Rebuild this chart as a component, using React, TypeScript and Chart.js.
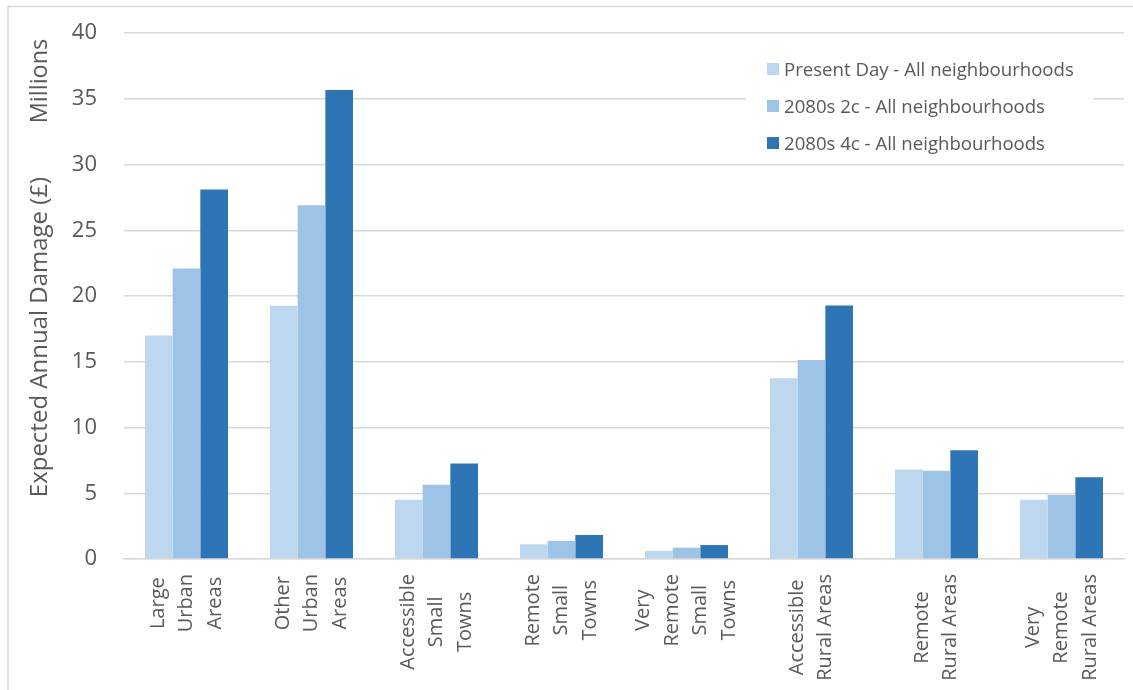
import { useEffect, useRef } from "react";
import { Chart, registerables } from "chart.js";

Chart.register(...registerables);

const categories: string[][] = [
  ["Large", "Urban", "Areas"],
  ["Other", "Urban", "Areas"],
  ["Accessible", "Small", "Towns"],
  ["Remote", "Small", "Towns"],
  ["Very", "Remote", "Small", "Towns"],
  ["Accessible", "Rural Areas"],
  ["Remote", "Rural Areas"],
  ["Very", "Remote", "Rural Areas"],
];

const seriesNames = [
  "Present Day - All neighbourhoods",
  "2080s 2c - All neighbourhoods",
  "2080s 4c - All neighbourhoods",
];

const presentDay = [17.0, 19.25, 4.5, 1.12, 0.62, 13.75, 6.8, 4.5];
const c2080s2 = [22.1, 26.9, 5.65, 1.38, 0.86, 15.13, 6.72, 4.87];
const c2080s4 = [28.1, 35.67, 7.27, 1.83, 1.06, 19.27, 8.27, 6.21];

const colors = ["#BDD7EE", "#9DC3E6", "#2E75B6"];

const yTitle = "Expected Annual Damage (£)";
const yUnit = "Millions";

const TEXT = "#595959";
const FONT = "'Open Sans', sans-serif";

const decorPlugin = {
  id: "decor",
  beforeDraw(chart: any) {
    const ctx = chart.ctx;
    ctx.save();
    ctx.fillStyle = "#ffffff";
    ctx.fillRect(0, 0, chart.width, chart.height);
    ctx.strokeStyle = "#D9D9D9";
    ctx.lineWidth = 1.5;
    ctx.strokeRect(8, 6.5, chart.width + 20, chart.height + 20);
    ctx.restore();
  },
  afterDraw(chart: any) {
    const ctx = chart.ctx;
    const xs = chart.scales.x;
    ctx.save();
    // category labels (rotated, lines centred within block)
    ctx.fillStyle = TEXT;
    ctx.font = `20px ${FONT}`;
    ctx.textAlign = "center";
    ctx.textBaseline = "middle";
    const lineH = 28.5;
    const top = 574;
    categories.forEach((lines, i) => {
      const cx = xs.getPixelForValue(i);
      const maxW = Math.max(...lines.map((l) => ctx.measureText(l).width));
      ctx.save();
      ctx.translate(cx, top + maxW / 2);
      ctx.rotate(-Math.PI / 2);
      lines.forEach((l, j) => {
        const off = (j - (lines.length - 1) / 2) * lineH;
        ctx.fillText(l, 0, off);
      });
      ctx.restore();
    });

    // y title and unit
    ctx.font = `24px ${FONT}`;
    ctx.save();
    ctx.translate(40, 337);
    ctx.rotate(-Math.PI / 2);
    ctx.fillText(yTitle, 0, 0);
    ctx.restore();
    ctx.font = `23.5px ${FONT}`;
    ctx.save();
    ctx.translate(40, 81);
    ctx.rotate(-Math.PI / 2);
    ctx.fillText(yUnit, 0, 0);
    ctx.restore();

    // legend
    ctx.fillStyle = "#ffffff";
    ctx.fillRect(746, 42, 347, 117);
    ctx.font = `18.6px ${FONT}`;
    ctx.textAlign = "left";
    ctx.textBaseline = "alphabetic";
    const rows = [69, 106, 143];
    chart.data.datasets.forEach((ds: any, i: number) => {
      const cy = rows[i];
      ctx.fillStyle = ds.backgroundColor;
      ctx.fillRect(767, cy - 6, 12, 12);
      ctx.fillStyle = TEXT;
      ctx.fillText(ds.label, 784, cy + 6.5);
    });
    ctx.restore();
  },
};

export default function App() {
  const ref = useRef<HTMLCanvasElement | null>(null);
  useEffect(() => {
    if (!ref.current) return;
    const chart = new Chart(ref.current, {
      type: "bar",
      data: {
        labels: categories.map((c) => c.join(" ")),
        datasets: [presentDay, c2080s2, c2080s4].map((d, i) => ({
          label: seriesNames[i],
          data: d,
          backgroundColor: colors[i],
          borderWidth: 0,
          categoryPercentage: 0.664,
          barPercentage: 1.0,
        })),
      },
      options: {
        responsive: false,
        animation: false,
        layout: { padding: { top: 33, right: 9, left: 0, bottom: 0 } },
        plugins: {
          legend: { display: false },
          tooltip: { enabled: false },
        },
        scales: {
          x: {
            grid: { display: false },
            border: { display: true, color: "#D9D9D9", width: 1.5 },
            ticks: { display: false },
            afterFit: (s: any) => {
              s.height = 131;
              s.paddingLeft = 0;
              s.paddingRight = 0;
            },
          },
          y: {
            min: 0,
            max: 40,
            ticks: {
              stepSize: 5,
              color: TEXT,
              font: { family: FONT, size: 22 },
              padding: 27,
            },
            grid: { color: "#D9D9D9", lineWidth: 1.5, drawTicks: false },
            border: { display: false },
            afterFit: (s: any) => {
              s.width = 124;
              s.paddingTop = 0;
              s.paddingBottom = 0;
            },
          },
        },
      },
      plugins: [decorPlugin],
    });
    return () => chart.destroy();
  }, []);
  return (
    <div style={{ position: "absolute", left: 0, top: 0, width: 1133, height: 690 }}>
      <canvas ref={ref} width={1133} height={690} style={{ display: "block" }} />
    </div>
  );
}
